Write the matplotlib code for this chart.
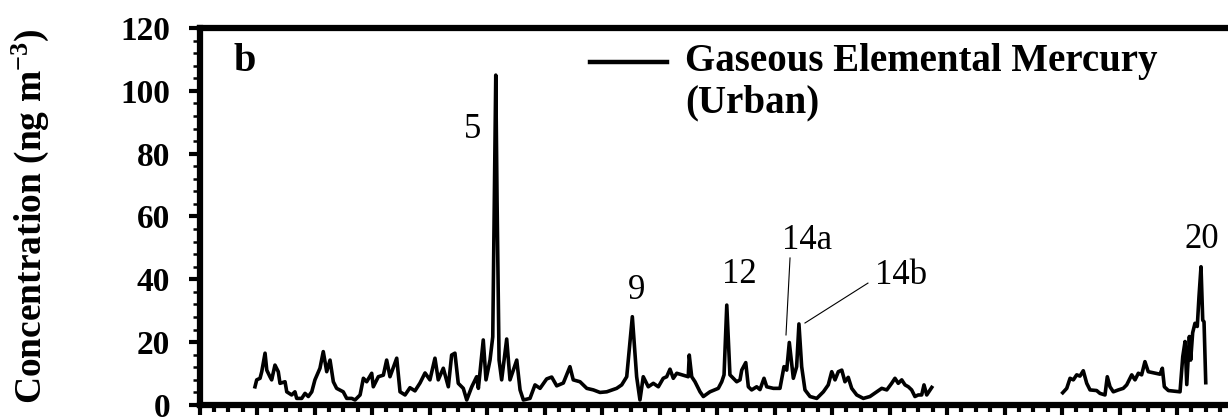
import numpy as np
import matplotlib
matplotlib.use("Agg")
import matplotlib.pyplot as plt
from matplotlib.ticker import MultipleLocator

plt.rcParams['font.family'] = ['Liberation Serif', 'DejaVu Serif']
plt.rcParams['mathtext.fontset'] = 'custom'
plt.rcParams['mathtext.rm'] = 'Liberation Serif'
plt.rcParams['mathtext.bf'] = 'Liberation Serif:bold'
plt.rcParams['mathtext.default'] = 'bf'

# 時系列データ（前半）
t_first = [3.86, 3.98, 4.21, 4.33, 4.56, 4.68, 4.90, 5.02, 5.25, 5.48, 5.60, 5.95,
           6.07, 6.41, 6.64, 6.76, 7.11, 7.34, 7.57, 7.81, 8.03, 8.38, 8.61, 8.85,
           9.08, 9.31, 9.54, 10.00, 10.24, 10.59, 10.82, 11.17, 11.40, 11.63, 11.98,
           12.09, 12.44, 12.79, 13.02, 13.25, 13.72, 13.95, 14.30, 14.64, 14.99,
           15.34, 15.69, 16.03, 16.38, 16.61, 16.96, 17.31, 17.54, 17.77, 18.00,
           18.35, 18.59, 18.94, 19.28, 19.40, 19.74, 19.93, 20.21, 20.40, 20.61,
           20.70, 20.84, 21.02, 21.37, 21.60, 22.07, 22.30, 22.53, 22.99, 23.34,
           23.69, 24.15, 24.50, 24.85, 25.31, 25.77, 26.00, 26.47, 26.94, 27.40,
           27.86, 28.33, 29.02, 29.37, 29.72, 30.11, 30.41, 30.64, 30.87, 31.22,
           31.57, 31.92, 32.26, 32.50, 32.73, 32.96, 33.20, 34.00, 34.07, 34.24,
           34.47, 34.82, 35.05, 35.51, 36.09, 36.33, 36.49, 36.68, 36.90, 37.13,
           37.37, 37.60, 37.72, 38.00, 38.18, 38.41, 38.76, 38.99, 39.27, 39.46,
           39.92, 40.38, 40.66, 40.85, 41.03, 41.31, 41.54, 41.70, 41.89, 42.12,
           42.47, 42.94, 43.40, 43.74, 43.98, 44.21, 44.44, 44.68, 44.90, 45.13,
           45.37, 45.72, 46.18, 46.64, 47.11, 47.46, 47.81, 48.15, 48.38, 48.61,
           48.85, 49.08, 49.31, 49.54, 49.77, 50.00, 50.24, 50.40, 50.59, 50.94]
gem_first = [5.8, 8.0, 8.5, 10.6, 16.5, 11.1, 9.0, 8.0, 12.7, 10.6, 6.9, 7.4,
             4.2, 3.2, 4.2, 2.1, 2.1, 3.7, 2.7, 4.2, 8.0, 11.7, 17.0, 10.6,
             14.3, 7.4, 5.3, 4.2, 2.1, 2.1, 1.6, 3.2, 8.5, 7.4, 10.1,
             5.8, 9.0, 9.5, 14.3, 9.0, 14.9, 4.2, 3.2, 5.5, 4.5,
             7.0, 10.2, 8.0, 14.9, 8.0, 11.7, 5.8, 15.9, 16.5, 6.9,
             5.3, 1.6, 5.8, 9.0, 5.3, 20.7, 8.0, 14.3, 21.7, 105.0,
             65.0, 14.3, 8.0, 21.0, 8.0, 14.3, 4.8, 1.6, 2.1, 6.4,
             5.3, 8.3, 8.9, 6.1, 7.0, 12.2, 8.0, 7.4, 5.3, 4.8,
             4.0, 4.2, 5.3, 6.4, 9.0, 28.1, 9.0, 1.6, 9.0, 5.8,
             6.9, 5.8, 8.5, 9.0, 11.4, 8.5, 10.1, 9.0, 15.9, 9.0,
             7.4, 4.2, 2.7, 4.2, 5.3, 7.4, 9.6, 31.8, 9.6, 8.5,
             7.4, 8.0, 11.1, 13.5, 5.8, 4.8, 5.8, 4.9, 8.5, 5.8,
             5.3, 5.3, 12.2, 11.1, 19.9, 8.5, 12.2, 25.8, 12.2, 4.8,
             2.7, 2.1, 4.2, 6.4, 10.6, 8.0, 10.6, 11.1, 7.4, 8.8,
             5.3, 3.2, 2.1, 2.7, 4.2, 5.3, 4.8, 6.9, 8.5, 6.9,
             8.0, 6.4, 5.8, 4.8, 2.7, 3.2, 3.2, 6.4, 3.2, 5.6]

# 時系列データ（後半）
t_second = [60.05, 60.33, 60.56, 60.79, 61.02, 61.25, 61.48, 61.72, 61.95, 62.41,
            62.64, 62.99, 63.15, 63.34, 63.57, 63.92, 64.26, 64.50, 64.85, 65.08,
            65.31, 65.54, 65.77, 66.00, 66.82, 66.98, 67.12, 67.40, 68.21, 68.40,
            68.56, 68.68, 68.86, 68.95, 69.09, 69.25, 69.41, 69.53, 69.67, 69.79,
            69.88, 70.00]
gem_second = [3.9, 5.3, 8.5, 8.0, 9.6, 9.2, 10.9, 6.9, 4.8, 4.6,
              3.7, 3.2, 9.0, 5.8, 4.2, 4.8, 5.3, 6.4, 9.6, 8.0,
              10.1, 9.6, 13.8, 10.6, 9.8, 11.7, 5.8, 4.6, 4.2, 15.4,
              20.2, 6.5, 21.8, 14.3, 23.0, 26.0, 25.0, 34.5, 44.0, 27.0,
              26.5, 7.1]

# イベント番号ラベル
event_labels = ['5', '9', '12', '14a', '14b', '20']
event_x = [18.99, 30.43, 37.53, 42.26, 48.80, 69.74]
event_y = [87.7, 36.3, 41.4, 52.5, 41.1, 52.7]

fig = plt.figure(figsize=(12.28, 4.17), dpi=100)
ax = fig.add_axes([199.5 / 1228, 12 / 417, 1035 / 1228, 377 / 417])

ax.plot(t_first, gem_first, color='black', lw=2.6)
ax.plot(t_second, gem_second, color='black', lw=2.6)

ax.set_xlim(0, 72)
ax.set_ylim(0, 120)

ax.xaxis.set_major_locator(MultipleLocator(4))
ax.xaxis.set_minor_locator(MultipleLocator(1))
ax.yaxis.set_major_locator(MultipleLocator(20))
ax.yaxis.set_minor_locator(MultipleLocator(4))

for s in ax.spines.values():
    s.set_linewidth(4.5)

ax.tick_params(axis='x', which='major', length=7, width=3, labelbottom=False)
ax.tick_params(axis='x', which='minor', length=5, width=3)
ax.tick_params(axis='y', which='major', length=8, width=3, pad=13, labelsize=24)
ax.tick_params(axis='y', which='minor', length=5, width=1.8)
for lab in ax.get_yticklabels():
    lab.set_fontweight('bold')

ax.set_ylabel('Concentration (ng m$^{-3}$)', fontsize=27, fontweight='bold', va='center')
ax.yaxis.set_label_coords(-0.1638, 0.5)

# パネル記号
ax.text(0.044, 0.910, 'b', transform=ax.transAxes, fontsize=29, fontweight='bold',
        ha='center', va='center')

# 凡例（手動）
ax.plot([0.377, 0.452], [0.910, 0.910], transform=ax.transAxes, color='black', lw=3.2)
ax.text(0.469, 0.910, 'Gaseous Elemental Mercury', transform=ax.transAxes,
        fontsize=28, fontweight='bold', ha='left', va='center')
ax.text(0.469, 0.801, '(Urban)', transform=ax.transAxes,
        fontsize=28, fontweight='bold', ha='left', va='center')

for lab, x, y in zip(event_labels, event_x, event_y):
    ax.text(x, y, lab, fontsize=25, ha='center', va='center')

# 引出線
ax.plot([41.08, 40.80], [46.8, 22.3], color='black', lw=0.8)
ax.plot([46.50, 42.12], [38.8, 26.1], color='black', lw=0.8)

fig.savefig('out.png', dpi=100)
